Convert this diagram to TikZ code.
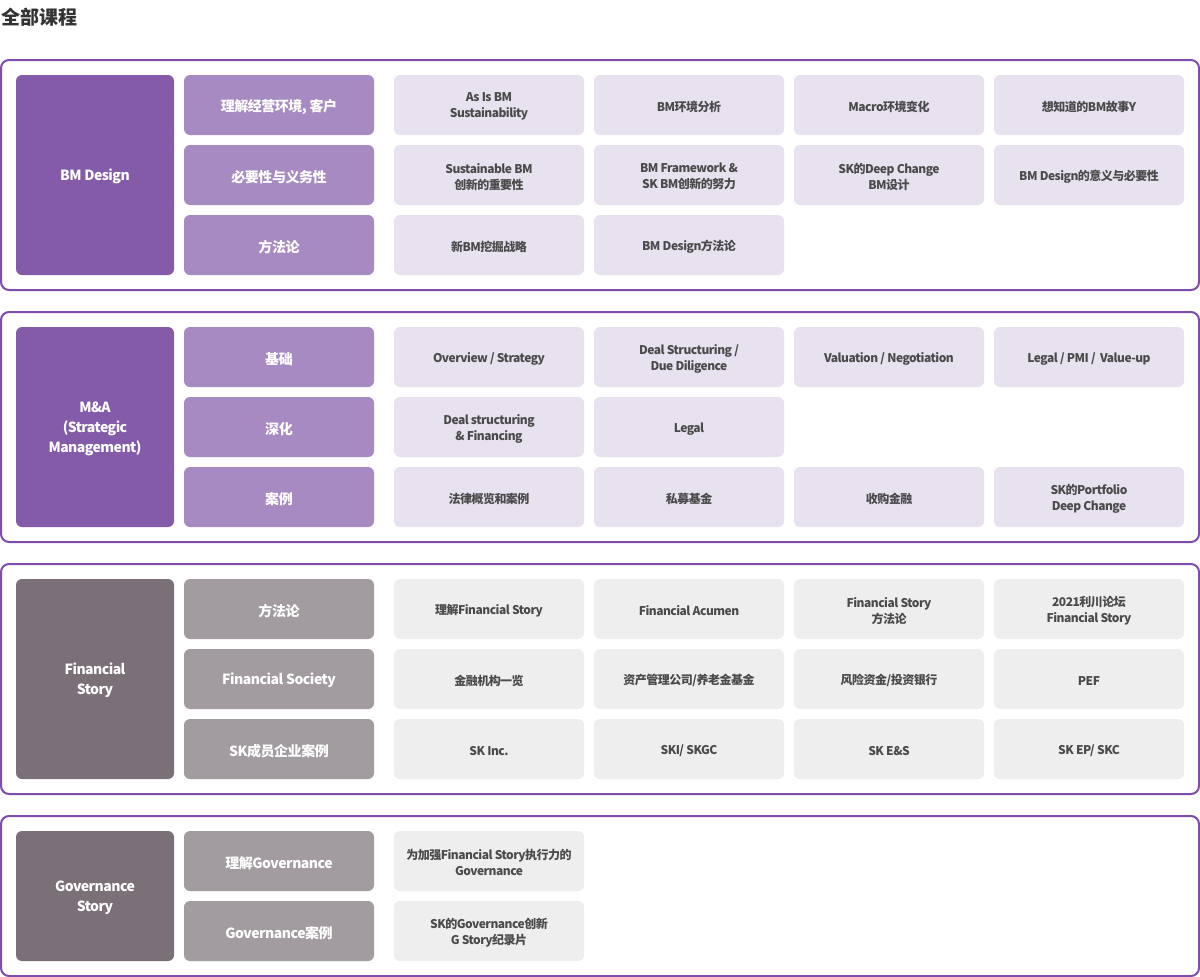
\documentclass[tikz,border=0pt]{standalone}
\usepackage{fontspec}
\setmainfont{Noto Sans CJK SC}
\newfontfamily\cellfont{Noto Sans CJK SC}[LetterSpace=-4.2]
\newfontfamily\midfont{Noto Sans CJK SC}[LetterSpace=-3.4]
\newfontfamily\leftfont{Noto Sans CJK SC}[LetterSpace=-3.8]
\definecolor{bordc}{HTML}{7E4DAB}
\definecolor{lp}{HTML}{835BA8}
\definecolor{mp}{HTML}{A68AC1}
\definecolor{cp}{HTML}{E8E1EF}
\definecolor{lg}{HTML}{7B6F78}
\definecolor{mg}{HTML}{A29CA1}
\definecolor{cg}{HTML}{EEEEEE}
\definecolor{txt}{HTML}{4A4A4A}
\definecolor{ttl}{HTML}{333333}
% #1 box style, #2 text style, #3 name, #4 x, #5 y, #6 text
\newcommand\mkcell[6]{%
  \node[#1,minimum width=190pt,minimum height=60pt] (#3) at (#4+95,#5+30) {};
  \node[#2] (#3-t) at ([yshift=-1.7pt]#3.center) {#6};}
\begin{document}
\begin{tikzpicture}[x=1pt,y=-1pt,
  outerbox/.style={draw=bordc,line width=2pt,rounded corners=8pt,inner sep=0pt},
  base/.style={rounded corners=6pt,inner sep=0pt},
  fP/.style={base,fill=lp},
  fG/.style={base,fill=lg},
  mP/.style={base,fill=mp},
  mG/.style={base,fill=mg},
  cP/.style={base,fill=cp},
  cG/.style={base,fill=cg},
  tL/.style={inner sep=0pt,align=center,text=white,font=\leftfont\bfseries\fontsize{14}{20}\selectfont},
  tM/.style={inner sep=0pt,align=center,text=white,font=\midfont\bfseries\fontsize{14}{18}\selectfont},
  tC/.style={inner sep=0pt,align=center,text=txt,font=\cellfont\bfseries\fontsize{12}{16}\selectfont}]
\useasboundingbox (0,0) rectangle (1200,977);
\fill[white] (0,0) rectangle (1200,977);
\node[anchor=west,inner sep=0pt,text=ttl,font=\bfseries\fontsize{19}{21}\selectfont] (title) at (1,17) {全部课程};
% outer boxes
\node[outerbox,minimum width=1198pt,minimum height=230pt] (sec1) at (600,175) {};
\node[outerbox,minimum width=1198pt,minimum height=230pt] (sec2) at (600,427) {};
\node[outerbox,minimum width=1198pt,minimum height=230pt] (sec3) at (600,679) {};
\node[outerbox,minimum width=1198pt,minimum height=160pt] (sec4) at (600,896) {};
% left nodes
\node[fP,minimum width=158pt,minimum height=200pt] (l1) at (95,175) {};
\node[tL] (l1-t) at ([yshift=-1.7pt]l1.center) {BM Design};
\node[fP,minimum width=158pt,minimum height=200pt] (l2) at (95,427) {};
\node[tL] (l2-t) at ([yshift=-1.7pt]l2.center) {M\&A\\(Strategic\\Management)};
\node[fG,minimum width=158pt,minimum height=200pt] (l3) at (95,679) {};
\node[tL] (l3-t) at ([yshift=-1.7pt]l3.center) {Financial\\Story};
\node[fG,minimum width=158pt,minimum height=130pt] (l4) at (95,896) {};
\node[tL] (l4-t) at ([yshift=-1.7pt]l4.center) {Governance\\Story};
% section 1
\mkcell{mP}{tM}{m11}{184}{75}{理解经营环境, 客户}
\mkcell{mP}{tM}{m12}{184}{145}{必要性与义务性}
\mkcell{mP}{tM}{m13}{184}{215}{方法论}
\mkcell{cP}{tC}{c111}{394}{75}{As Is BM\\Sustainability}
\mkcell{cP}{tC}{c112}{594}{75}{BM环境分析}
\mkcell{cP}{tC}{c113}{794}{75}{Macro环境变化}
\mkcell{cP}{tC}{c114}{994}{75}{想知道的BM故事Y}
\mkcell{cP}{tC}{c121}{394}{145}{Sustainable BM\\创新的重要性}
\mkcell{cP}{tC}{c122}{594}{145}{BM Framework \&\\SK BM创新的努力}
\mkcell{cP}{tC}{c123}{794}{145}{SK的Deep Change\\BM设计}
\mkcell{cP}{tC}{c124}{994}{145}{BM Design的意义与必要性}
\mkcell{cP}{tC}{c131}{394}{215}{新BM挖掘战略}
\mkcell{cP}{tC}{c132}{594}{215}{BM Design方法论}
% section 2
\mkcell{mP}{tM}{m21}{184}{327}{基础}
\mkcell{mP}{tM}{m22}{184}{397}{深化}
\mkcell{mP}{tM}{m23}{184}{467}{案例}
\mkcell{cP}{tC}{c211}{394}{327}{Overview / Strategy}
\mkcell{cP}{tC}{c212}{594}{327}{Deal Structuring /\\Due Diligence}
\mkcell{cP}{tC}{c213}{794}{327}{Valuation / Negotiation}
\mkcell{cP}{tC}{c214}{994}{327}{Legal / PMI /\ \ Value-up}
\mkcell{cP}{tC}{c221}{394}{397}{Deal structuring\\\& Financing}
\mkcell{cP}{tC}{c222}{594}{397}{Legal}
\mkcell{cP}{tC}{c231}{394}{467}{法律概览和案例}
\mkcell{cP}{tC}{c232}{594}{467}{私募基金}
\mkcell{cP}{tC}{c233}{794}{467}{收购金融}
\mkcell{cP}{tC}{c234}{994}{467}{SK的Portfolio\\Deep Change}
% section 3
\mkcell{mG}{tM}{m31}{184}{579}{方法论}
\mkcell{mG}{tM}{m32}{184}{649}{Financial Society}
\mkcell{mG}{tM}{m33}{184}{719}{SK成员企业案例}
\mkcell{cG}{tC}{c311}{394}{579}{理解Financial Story}
\mkcell{cG}{tC}{c312}{594}{579}{Financial Acumen}
\mkcell{cG}{tC}{c313}{794}{579}{Financial Story\\方法论}
\mkcell{cG}{tC}{c314}{994}{579}{2021利川论坛\\Financial Story}
\mkcell{cG}{tC}{c321}{394}{649}{金融机构一览}
\mkcell{cG}{tC}{c322}{594}{649}{资产管理公司/养老金基金}
\mkcell{cG}{tC}{c323}{794}{649}{风险资金/投资银行}
\mkcell{cG}{tC}{c324}{994}{649}{PEF}
\mkcell{cG}{tC}{c331}{394}{719}{SK Inc.}
\mkcell{cG}{tC}{c332}{594}{719}{SKI/ SKGC}
\mkcell{cG}{tC}{c333}{794}{719}{SK E\&S}
\mkcell{cG}{tC}{c334}{994}{719}{SK EP/ SKC}
% section 4
\mkcell{mG}{tM}{m41}{184}{831}{理解Governance}
\mkcell{mG}{tM}{m42}{184}{901}{Governance案例}
\mkcell{cG}{tC}{c411}{394}{831}{为加强Financial Story执行力的\\Governance}
\mkcell{cG}{tC}{c421}{394}{901}{SK的Governance创新\\G Story纪录片}
\end{tikzpicture}
\end{document}
